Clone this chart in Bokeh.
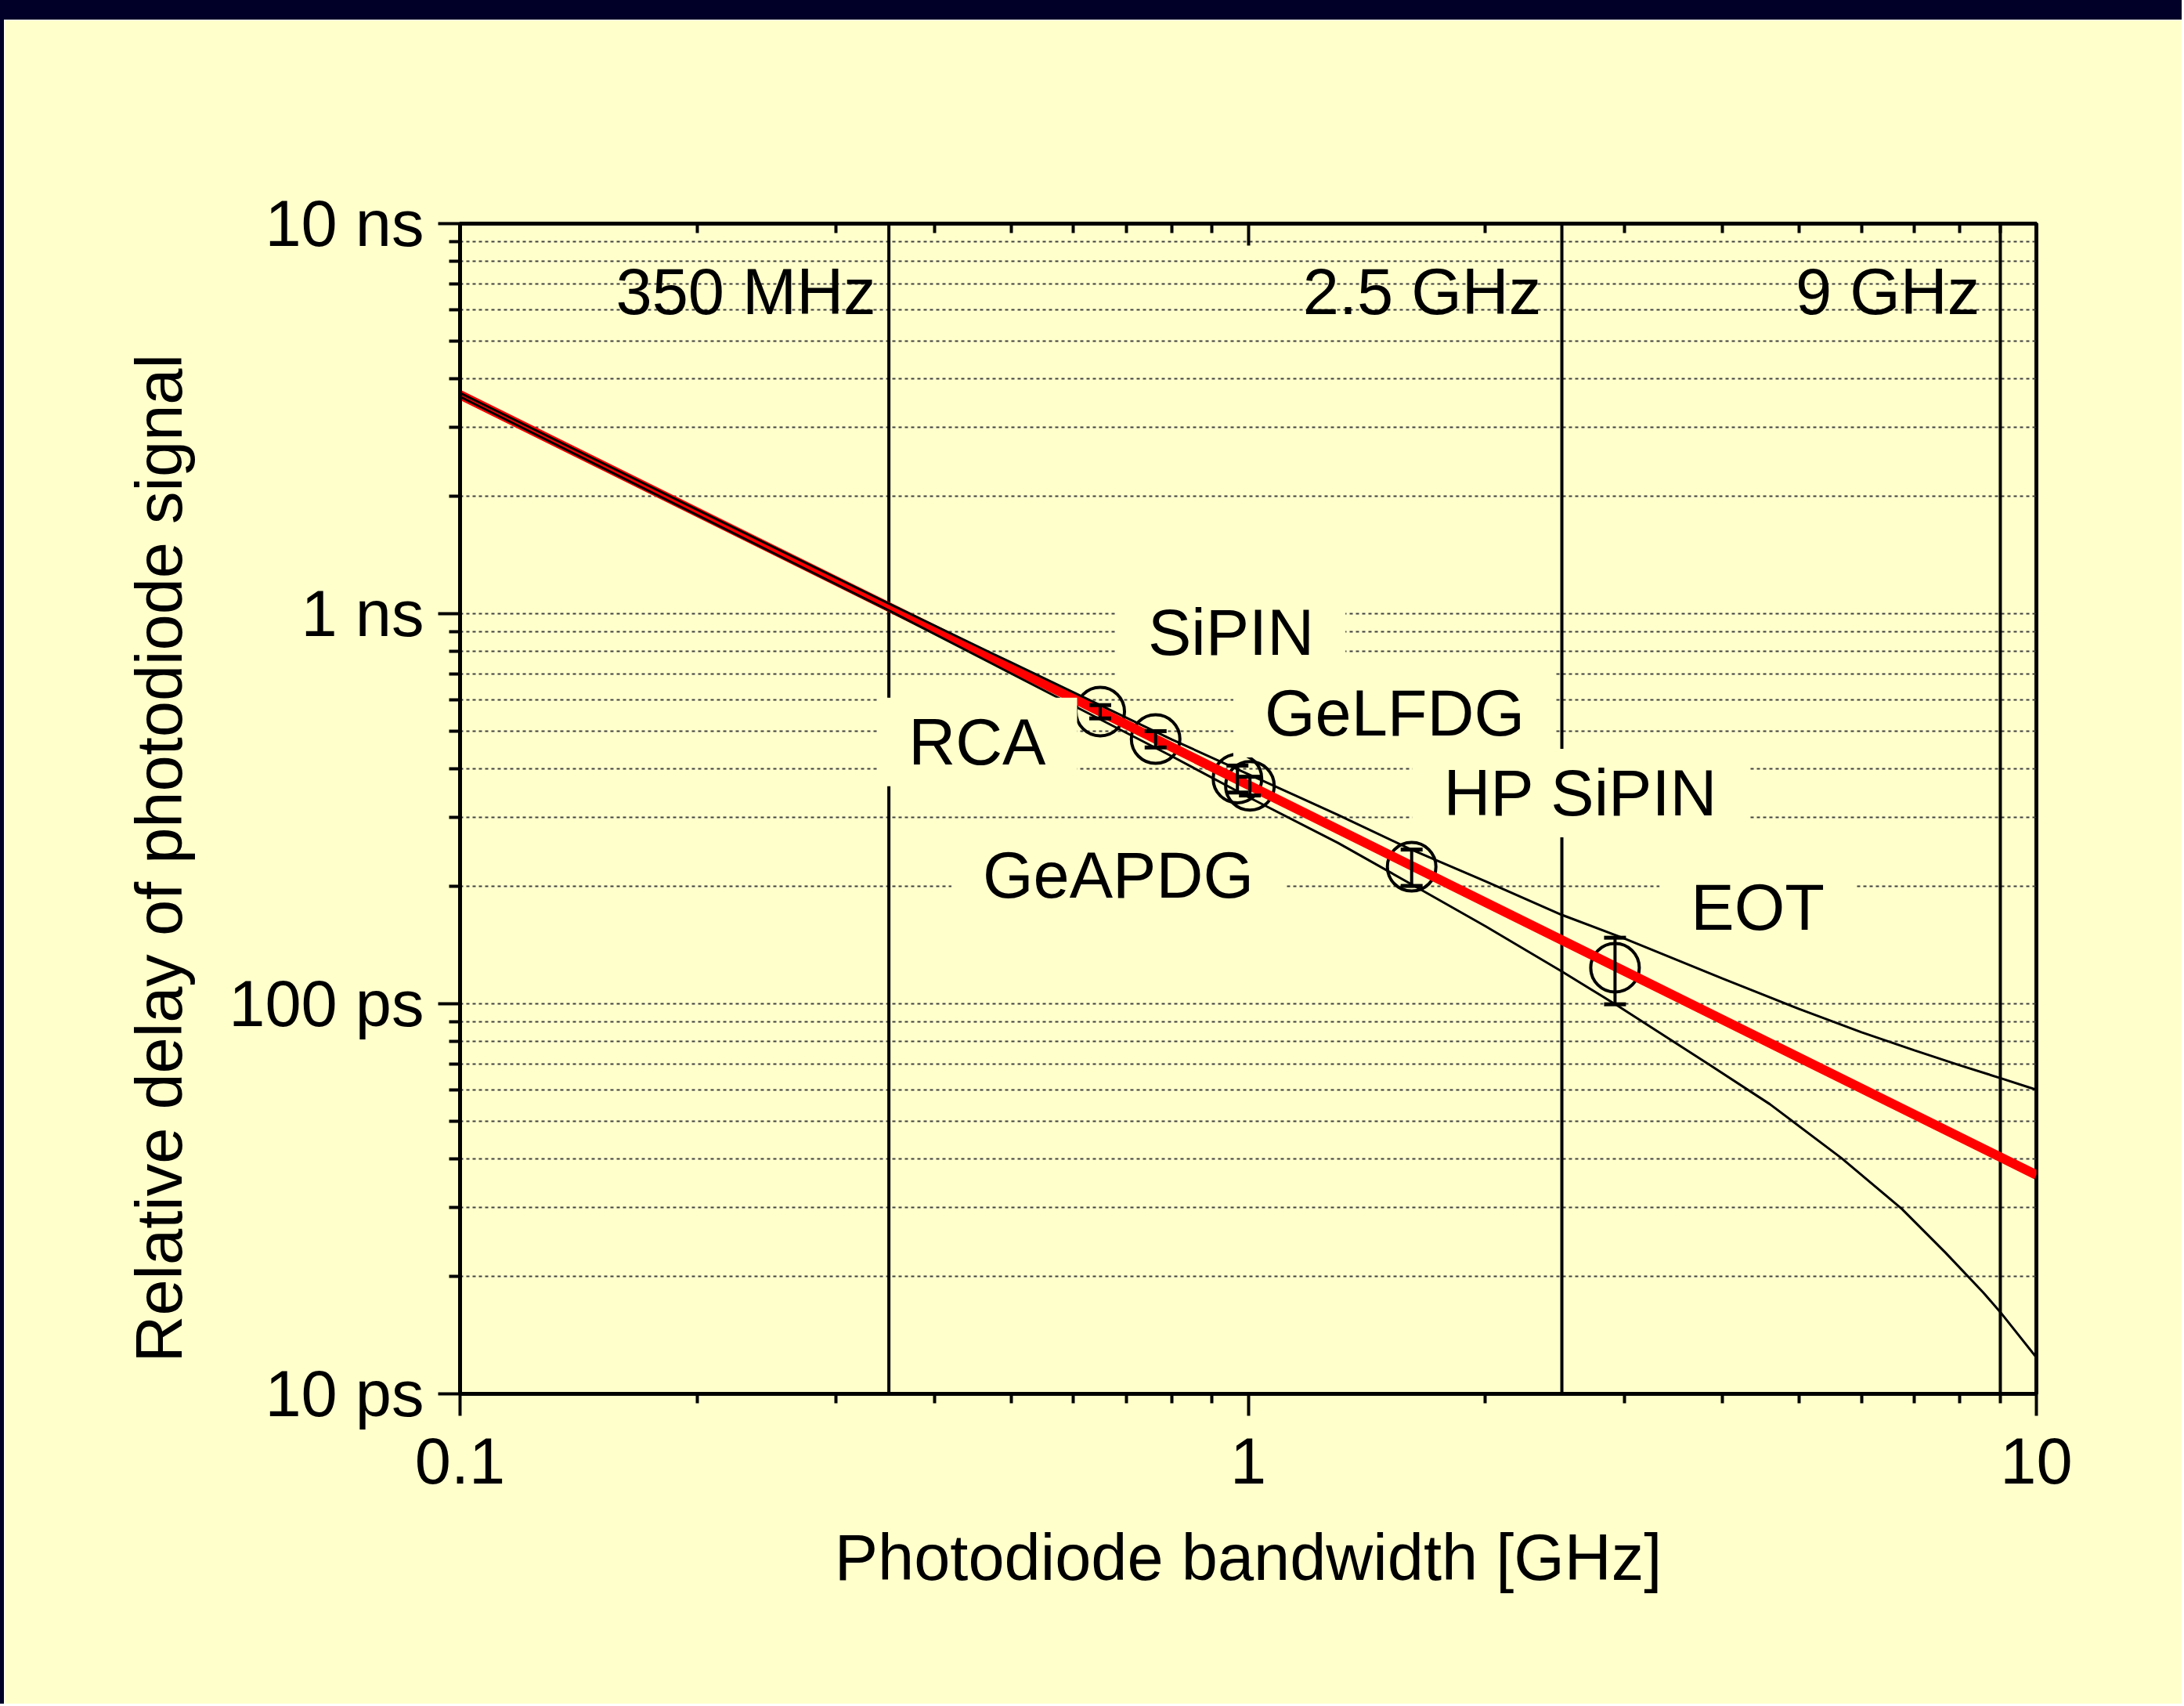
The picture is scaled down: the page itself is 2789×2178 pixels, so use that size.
from bokeh.plotting import figure
from bokeh.models import FixedTicker, LogAxis, Label, Title, Div, Span, Range1d
from bokeh.layouts import column, row
from bokeh.embed import file_html
from bokeh.resources import INLINE

# ---------------- data ----------------
FIT_BW = [0.1, 10.0]                      # GHz
FIT_DELAY = [3.64, 0.0364]                # ns

UPPER_BW = [0.1, 0.2, 0.35, 0.5, 0.65, 0.8, 1.0, 1.3, 1.6, 2.0, 2.5, 3.0, 4.0, 5.0, 6.0, 7.0, 8.0, 9.0, 10.0]
UPPER_DELAY = [3.68, 1.847, 1.061, 0.750, 0.582, 0.476, 0.388, 0.305, 0.250, 0.206, 0.169, 0.147, 0.116,
               0.097, 0.0845, 0.0760, 0.0695, 0.0645, 0.0602]

LOWER_BW = [0.1, 0.2, 0.35, 0.5, 0.65, 0.8, 1.0, 1.3, 1.6, 2.0, 2.5, 2.94, 3.85, 4.59, 5.66, 6.75, 7.67,
            8.56, 9.0, 10.0]
LOWER_DELAY = [3.60, 1.79, 1.019, 0.703, 0.535, 0.431, 0.339, 0.2585, 0.204, 0.158, 0.121, 0.099, 0.0697,
               0.0553, 0.0402, 0.0298, 0.0230, 0.0182, 0.0162, 0.0124]

DEV_BW = [0.649, 0.763, 0.969, 1.005, 1.612, 2.92]
DEV_DELAY = [0.561, 0.477, 0.378, 0.362, 0.2245, 0.1237]
DEV_ERR = [0.022, 0.023, 0.030, 0.020, 0.024, 0.024]

MARK_BW = [0.35, 2.5, 9.0]
MARK_TEXT = ["350 MHz", "2.5 GHz", "9 GHz"]

DEVICE_NAMES = ["SiPIN", "GeLFDG", "RCA", "HP SiPIN", "GeAPDG", "EOT"]

X_TICKS = [0.1, 1, 10]
X_TICK_LABELS = ["0.1", "1", "10"]
Y_TICKS = [0.01, 0.1, 1, 10]
Y_TICK_LABELS = ["10 ps", "100 ps", "1 ns", "10 ns"]

X_TITLE = "Photodiode bandwidth [GHz]"
Y_TITLE = "Relative delay of photodiode signal"

# ---------------- layout / style ----------------
MARK_LABEL_POS = [(0.2305, 6.69), (1.662, 6.69), (6.476, 6.69)]
DEVICE_LABEL_POS = [(0.951, 0.895), (1.534, 0.556), (0.453, 0.469), (2.642, 0.347), (0.684, 0.2135), (4.43, 0.1766)]

BG = "#FFFFCC"
NAVY = "#000028"
FONT = "Liberation Sans"
FS = "83px"

TOP_BAND, LEFT_BAND = 25, 5
W, H = 2781, 2150

x_minor = [k * 10.0 ** e for e in (-1, 0) for k in range(2, 10)]
y_minor = [k * 10.0 ** e for e in (-2, -1, 0) for k in range(2, 10)]

p = figure(width=W, height=H, x_axis_type="log", y_axis_type="log",
           x_range=Range1d(X_TICKS[0], X_TICKS[-1]), y_range=Range1d(Y_TICKS[0], Y_TICKS[-1]),
           output_backend="svg", toolbar_location=None,
           min_border_left=582, min_border_right=W - 2595, min_border_top=260, min_border_bottom=H - 1754,
           background_fill_color=BG, border_fill_color=BG)
p.outline_line_color = "black"
p.outline_line_width = 5

xt = FixedTicker(ticks=X_TICKS, minor_ticks=x_minor)
yt = FixedTicker(ticks=Y_TICKS, minor_ticks=y_minor)

xa = p.xaxis[0]
xa.ticker = xt
xa.major_label_overrides = {t: l for t, l in zip(X_TICKS, X_TICK_LABELS)}
xa.axis_line_width = 5
xa.major_tick_line_width = 4
xa.minor_tick_line_width = 4
xa.major_tick_out = 28
xa.major_tick_in = 0
xa.minor_tick_out = 12
xa.minor_tick_in = 0
xa.major_label_text_font = FONT
xa.major_label_text_font_size = FS
xa.major_label_text_color = "black"
xa.major_label_standoff = 28
xa.axis_label = X_TITLE
xa.axis_label_text_font = FONT
xa.axis_label_text_font_size = FS
xa.axis_label_text_font_style = "normal"
xa.axis_label_text_color = "black"
xa.axis_label_standoff = 45

ya = p.yaxis[0]
ya.ticker = yt
ya.major_label_overrides = {t: l for t, l in zip(Y_TICKS, Y_TICK_LABELS)}
ya.axis_line_width = 5
ya.major_tick_line_width = 4
ya.minor_tick_line_width = 4
ya.major_tick_out = 28
ya.major_tick_in = 0
ya.minor_tick_out = 14
ya.minor_tick_in = 0
ya.major_label_text_font = FONT
ya.major_label_text_font_size = FS
ya.major_label_text_color = "black"
ya.major_label_standoff = 18
ya.axis_label = None

top = LogAxis(ticker=FixedTicker(ticks=X_TICKS, minor_ticks=x_minor),
              axis_line_width=5, major_tick_line_width=4, minor_tick_line_width=4,
              major_tick_in=28, major_tick_out=0, minor_tick_in=12, minor_tick_out=0,
              major_label_text_font_size="0px", major_label_text_color=None)
p.add_layout(top, "above")

ytitle = Title(text=Y_TITLE, align="left", offset=40, vertical_align="bottom", standoff=80,
               text_font=FONT, text_font_size=FS, text_font_style="normal", text_color="black")
p.add_layout(ytitle, "left")

p.xgrid.grid_line_color = None
p.ygrid.ticker = yt
p.ygrid.grid_line_color = "#404040"
p.ygrid.grid_line_width = 2
p.ygrid.grid_line_dash = "4 4"
p.ygrid.minor_grid_line_color = "#404040"
p.ygrid.minor_grid_line_width = 2
p.ygrid.minor_grid_line_dash = "4 4"

for bw in MARK_BW:
    p.add_layout(Span(location=bw, dimension="height", line_color="black", line_width=4, level="underlay"))

# device points (red fit passes over their outlines)
p.scatter(DEV_BW, DEV_DELAY, marker="circle", size=62, fill_color=None, line_color="black", line_width=4)

# fit line, then the envelope curves drawn over it
p.line(FIT_BW, FIT_DELAY, line_color="#FF0000", line_width=12)
p.line(UPPER_BW, UPPER_DELAY, line_color="black", line_width=3)
p.line(LOWER_BW, LOWER_DELAY, line_color="black", line_width=3)

# error bars on top
lo = [d - e for d, e in zip(DEV_DELAY, DEV_ERR)]
hi = [d + e for d, e in zip(DEV_DELAY, DEV_ERR)]
p.segment(x0=DEV_BW, y0=lo, x1=DEV_BW, y1=hi, line_color="black", line_width=4)
p.scatter(DEV_BW, lo, marker="dash", size=28, line_color="black", line_width=5)
p.scatter(DEV_BW, hi, marker="dash", size=28, line_color="black", line_width=5)

for (x, y), t in zip(MARK_LABEL_POS, MARK_TEXT):
    p.add_layout(Label(x=x, y=y, text=t, text_font=FONT, text_font_size=FS, text_color="black",
                       text_align="center", text_baseline="middle"))

for (x, y), t in zip(DEVICE_LABEL_POS, DEVICE_NAMES):
    p.add_layout(Label(x=x, y=y, text=t, text_font=FONT, text_font_size=FS, text_color="black",
                       text_align="center", text_baseline="middle",
                       background_fill_color=BG, padding=(40, 10)))

top_band = Div(text="", width=LEFT_BAND + W, height=TOP_BAND, margin=0, styles={"background-color": NAVY})
left_band = Div(text="", width=LEFT_BAND, height=H, margin=0, styles={"background-color": NAVY})
layout = column(top_band, row(left_band, p, spacing=0), spacing=0)

open("out.html", "w").write(file_html(layout, INLINE))
